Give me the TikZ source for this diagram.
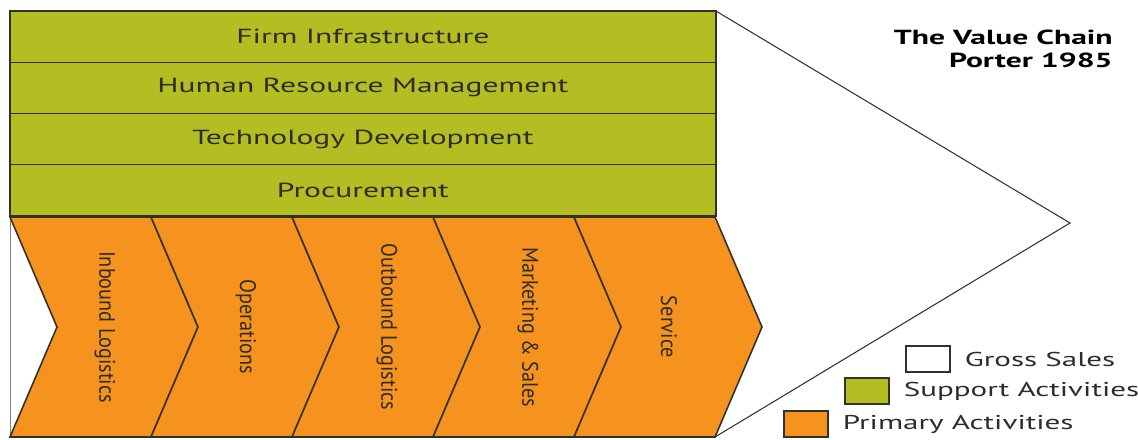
\documentclass[tikz,border=0pt]{standalone}
\usepackage{fontspec}
\usepackage{xcolor}
\usepackage{tikz}
\usetikzlibrary{positioning}
\newfontfamily\vcfont{PT Sans}[FakeStretch=1.55]
\newfontfamily\chevfont{PT Sans}[FakeStretch=0.9]
\definecolor{suppgreen}{RGB}{180,189,34}
\definecolor{primorange}{RGB}{246,146,30}
\definecolor{edgegray}{RGB}{50,50,40}
\definecolor{textgray}{RGB}{45,45,40}

\begin{document}
\begin{tikzpicture}[
  x=0.02cm, y=-0.02cm,
  supp/.style={rectangle, draw=edgegray, fill=suppgreen, line width=0.8pt,
               minimum width=14.12cm, minimum height=1.025cm, inner sep=0pt, outer sep=0pt,
               font=\vcfont\fontsize{11.6}{13}\selectfont, text=textgray},
  chev/.style={draw=edgegray, fill=primorange, line width=0.9pt},
  chevlabel/.style={rotate=-90, inner sep=0pt, text=textgray,
                    font=\chevfont\fontsize{12.8}{14}\selectfont},
  lgbox/.style={rectangle, draw=edgegray, line width=0.6pt, minimum width=0.88cm,
                minimum height=0.52cm, inner sep=0pt},
  lgtext/.style={inner sep=0pt, text=textgray, font=\vcfont\fontsize{11.4}{13}\selectfont},
  ttl/.style={inner sep=0pt, text=black, font=\vcfont\bfseries\fontsize{11.6}{13}\selectfont}
]
  \useasboundingbox (0,0) rectangle (1138,439);

  % support activities
  \node[supp, anchor=north west] (firm) at (10,11) {Firm Infrastructure};
  \node[supp, below=0pt of firm] (hrm) {Human Resource Management};
  \node[supp, below=0pt of hrm] (tech) {Technology Development};
  \node[supp, below=0pt of tech] (proc) {Procurement};
  \draw[edgegray, line width=1.4pt] (firm.north west) rectangle (proc.south east);

  % primary activities
  \draw[gray, line width=0.5pt] (10,217) -- (10,437);
  \foreach \i/\lbl [evaluate=\i as \xa using 10+141*\i] in
      {0/Inbound Logistics, 1/Operations, 2/Outbound Logistics, 3/Marketing \& Sales, 4/Service} {
    \draw[chev] (\xa,217) -- ++(141,0) -- ++(47,110) -- ++(-47,110) -- ++(-141,0)
      -- ++(47,-110) -- cycle;
    \node[chevlabel] (pa\i) at (\xa+95,327) {\lbl};
  }

  % gross sales
  \coordinate (apex) at (1070,223);
  \coordinate (chainend) at (715,437);
  \draw[edgegray, line width=0.6pt] (firm.north east) -- (apex) -- (chainend);

  % title
  \node[ttl, anchor=base east] (title) at (1113,45) {The Value Chain};
  \node[ttl, anchor=base east] (author) at (1113,68) {Porter 1985};

  % legend
  \node[lgbox, fill=white] (gsbox) at (928,359) {};
  \node[lgtext, right=0.28cm of gsbox] (gstext) {Gross Sales};
  \node[lgbox, fill=suppgreen] (sabox) at (867,391) {};
  \node[lgtext, right=0.28cm of sabox] (satext) {Support Activities};
  \node[lgbox, fill=primorange] (pabox) at (806,424) {};
  \node[lgtext, right=0.28cm of pabox] (patext) {Primary Activities};
\end{tikzpicture}
\end{document}
